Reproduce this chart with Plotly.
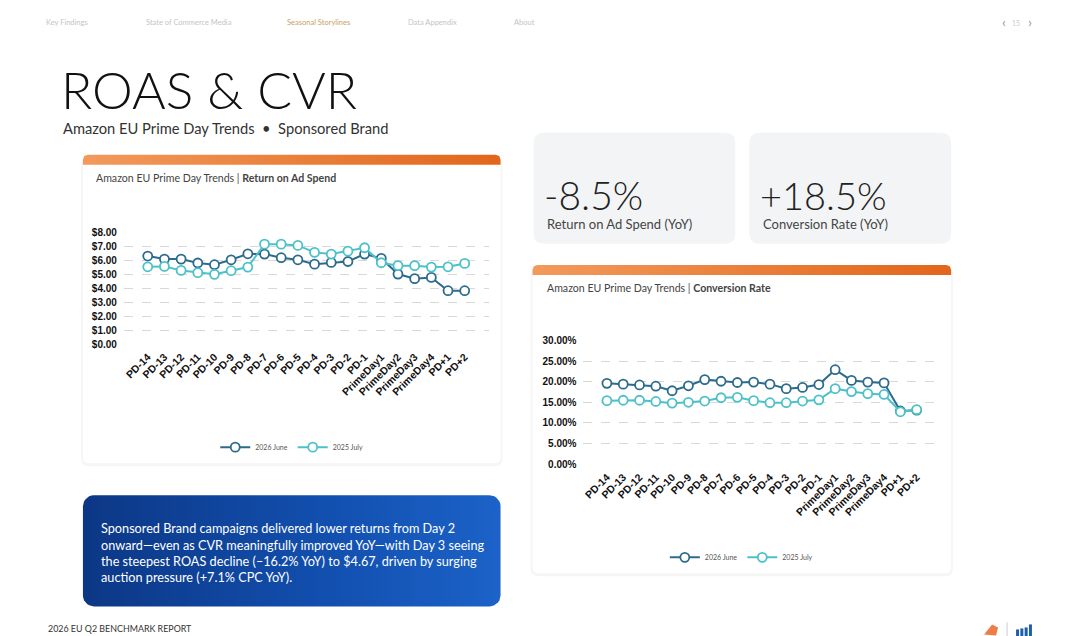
import numpy as np
import plotly.graph_objects as go

# page is 1080x636; the figure sits inside the html body margin, so page pixels are
# mapped onto figure pixels (x offset 8, y measured offset/scale from the rendered page)
OFFX, OFFY, SY = 8, 13.5, 0.981
W, H = 1072, 628

# --- data ---
days = ['PD-14', 'PD-13', 'PD-12', 'PD-11', 'PD-10', 'PD-9', 'PD-8', 'PD-7', 'PD-6', 'PD-5',
        'PD-4', 'PD-3', 'PD-2', 'PD-1', 'PrimeDay1', 'PrimeDay2', 'PrimeDay3', 'PrimeDay4',
        'PD+1', 'PD+2']
roas_2026 = [6.29, 6.07, 6.07, 5.79, 5.67, 6.02, 6.45, 6.43, 6.17, 6.02,
             5.71, 5.83, 5.90, 6.43, 6.12, 5.00, 4.67, 4.76, 3.81, 3.81]
roas_2025 = [5.52, 5.55, 5.26, 5.10, 4.98, 5.24, 5.50, 7.14, 7.14, 7.05,
             6.55, 6.43, 6.64, 6.88, 5.81, 5.60, 5.60, 5.50, 5.52, 5.76]
cvr_2026 = [19.6, 19.4, 19.2, 18.9, 17.8, 19.0, 20.5, 20.1, 19.8, 19.9,
            19.4, 18.3, 18.6, 19.3, 22.9, 20.3, 19.9, 19.7, 12.9, 13.1]
cvr_2025 = [15.4, 15.5, 15.5, 15.2, 14.8, 15.0, 15.3, 16.1, 16.2, 15.4,
            14.9, 14.9, 15.3, 15.6, 18.3, 17.6, 17.1, 16.9, 12.7, 13.2]
series_names = ['2026 June', '2025 July']
roas_ticks = [0, 1, 2, 3, 4, 5, 6, 7, 8]
cvr_ticks = [0, 5, 10, 15, 20, 25, 30]

DARK = '#2c6b8c'
LIGHT = '#4cc2c8'
FONT = 'Lato, Inter, Noto Sans, sans-serif'
TICKFONT = dict(family='Liberation Sans, Arial', size=10, color='#111', weight='bold')


def fx(x):
    return x - OFFX


def fy(y):
    return (y - OFFY) / SY


def px(x):
    return fx(x) / W


def py(y):
    return 1 - fy(y) / H


def rrect_path(x0, y0, x1, y1, r, top_only=False):
    # rounded rectangle in page pixels -> svg path in paper coords
    rb = 0 if top_only else r
    pts = [
        f"M {px(x0 + r)},{py(y0)}",
        f"L {px(x1 - r)},{py(y0)}",
        f"Q {px(x1)},{py(y0)} {px(x1)},{py(y0 + r)}",
        f"L {px(x1)},{py(y1 - rb)}",
        f"Q {px(x1)},{py(y1)} {px(x1 - rb)},{py(y1)}",
        f"L {px(x0 + rb)},{py(y1)}",
        f"Q {px(x0)},{py(y1)} {px(x0)},{py(y1 - rb)}",
        f"L {px(x0)},{py(y0 + r)}",
        f"Q {px(x0)},{py(y0)} {px(x0 + r)},{py(y0)} Z",
    ]
    return ' '.join(pts)


def rrect_poly(x0, y0, x1, y1, r, top_only=False):
    # rounded rectangle polygon (figure pixels) for gradient-filled traces
    rb = 0 if top_only else r
    xs, ys = [], []
    corners = [(x1 - r, y0 + r, r, -90, 0), (x1 - rb, y1 - rb, rb, 0, 90),
               (x0 + rb, y1 - rb, rb, 90, 180), (x0 + r, y0 + r, r, 180, 270)]
    for cx, cy, rr, a0, a1 in corners:
        t = np.deg2rad(np.linspace(a0, a1, 8))
        xs += [fx(v) for v in cx + rr * np.cos(t)]
        ys += [fy(v) for v in cy + rr * np.sin(t)]
    xs.append(xs[0])
    ys.append(ys[0])
    return xs, ys


fig = go.Figure()

# --- gradient pieces drawn on a full-figure pixel axis ---
grads = [
    (82, 155, 500, 165, 5, True, [[0, '#f29a5c'], [1, '#e2661b']]),
    (532, 265, 951, 275, 5, True, [[0, '#f29a5c'], [1, '#e2661b']]),
    (82, 495, 500, 606, 11, False, [[0, '#0c3785'], [0.6, '#1250b0'], [1, '#1c62c8']]),
]
for x0, y0, x1, y1, r, top, cs in grads:
    gx, gy = rrect_poly(x0, y0, x1, y1, r, top)
    fig.add_trace(go.Scatter(x=gx, y=gy, mode='lines', fill='toself', line=dict(width=0),
                             fillgradient=dict(type='horizontal', colorscale=cs),
                             hoverinfo='skip', showlegend=False, xaxis='x', yaxis='y'))

# --- chart traces ---
for vals, name, col in [(roas_2026, series_names[0], DARK),
                        (roas_2025, series_names[1], LIGHT)]:
    fig.add_trace(go.Scatter(x=days, y=vals, name=name, mode='lines+markers',
                             line=dict(color=col, width=2),
                             marker=dict(symbol='circle', size=9, color='white',
                                         line=dict(color=col, width=1.8)),
                             xaxis='x2', yaxis='y2', legend='legend'))
for vals, name, col in [(cvr_2026, series_names[0], DARK),
                        (cvr_2025, series_names[1], LIGHT)]:
    fig.add_trace(go.Scatter(x=days, y=vals, name=name, mode='lines+markers',
                             line=dict(color=col, width=2),
                             marker=dict(symbol='circle', size=9, color='white',
                                         line=dict(color=col, width=1.8)),
                             xaxis='x3', yaxis='y3', legend='legend2'))

# --- cards as shapes ---
shapes = []
for x0, y0, x1, y1 in [(82, 157, 500, 463), (532, 267, 951, 573)]:
    shapes.append(dict(type='path', path=rrect_path(x0 - 2, y0, x1 + 2, y1 + 3, 8),
                       xref='paper', yref='paper', fillcolor='rgba(0,0,0,0.035)',
                       line=dict(width=0), layer='below'))
    shapes.append(dict(type='path', path=rrect_path(x0, y0, x1, y1, 6),
                       xref='paper', yref='paper', fillcolor='white',
                       line=dict(width=0), layer='below'))
for x0 in [533, 749]:
    shapes.append(dict(type='path', path=rrect_path(x0, 133, x0 + 202, 244, 11),
                       xref='paper', yref='paper', fillcolor='#f3f4f5',
                       line=dict(width=0), layer='below'))
# footer logos
shapes.append(dict(type='path', path=f"M {px(984)},{py(634)} L {px(992)},{py(624)} L {px(998)},{py(627)} "
                   f"L {px(996)},{py(635)} Z", xref='paper', yref='paper',
                   fillcolor='#ee7d4a', line=dict(width=0)))
shapes.append(dict(type='line', x0=px(1007), x1=px(1007), y0=py(622), y1=py(636),
                   xref='paper', yref='paper', line=dict(color='#cccccc', width=1)))
for i, top in enumerate([629, 628, 627, 624]):
    shapes.append(dict(type='rect', x0=px(1016 + i * 4.3), x1=px(1019 + i * 4.3),
                       y0=py(636), y1=py(top), xref='paper', yref='paper',
                       fillcolor='#1f5ea8', line=dict(width=0)))

# --- texts ---
ann = []


def text(x, y, s, size, color='#333', anchor='left', weight='normal', family=FONT):
    if anchor == 'left':
        x -= 3  # annotation box padding
    ann.append(dict(x=px(x), y=py(y), xref='paper', yref='paper', text=s, showarrow=False,
                    xanchor=anchor, yanchor='middle', align=anchor,
                    font=dict(family=family, size=size, color=color, weight=weight)))


for x, s, c in [(46, 'Key Findings', '#c4c4c4'), (146, 'State of Commerce Media', '#c4c4c4'),
                (287, 'Seasonal Storylines', '#c9a06a'), (408, 'Data Appendix', '#c4c4c4'),
                (514, 'About', '#c4c4c4')]:
    text(x, 23, s, 7.5, c)
text(1004, 22, '‹', 14, '#999999', 'center')
text(1016, 23, '15', 7, '#cccccc', 'center')
text(1030, 22, '›', 14, '#999999', 'center')

text(61, 89, 'ROAS &amp; CVR', 51.5, '#111111', weight=300)
text(63, 128, 'Amazon EU Prime Day Trends  •  Sponsored Brand', 14.7, '#333333')

text(96, 178, 'Amazon EU Prime Day Trends | <b>Return on Ad Spend</b>', 10.6, '#444444')
text(547, 288, 'Amazon EU Prime Day Trends | <b>Conversion Rate</b>', 10.6, '#444444')

text(544, 195, '-8.5%', 39, '#222222', weight=300)
text(547, 224, 'Return on Ad Spend (YoY)', 13, '#444444')
text(761, 195, '+18.5%', 38, '#222222', weight=300)
text(764, 224, 'Conversion Rate (YoY)', 13, '#444444')

lines = ['Sponsored Brand campaigns delivered lower returns from Day 2',
         'onward—even as CVR meaningfully improved YoY—with Day 3 seeing',
         'the steepest ROAS decline (–16.2% YoY) to $4.67, driven by surging',
         'auction pressure (+7.1% CPC YoY).']
for i, s in enumerate(lines):
    text(101, 528 + i * 16.2, s, 12.7, '#ffffff')

text(48, 628, '2026 EU Q2 BENCHMARK REPORT', 8.9, '#333333')

grid = dict(showgrid=True, gridcolor='#d8d8d8', griddash='dash', gridwidth=1,
            zeroline=False, showline=False, ticks='', tickfont=TICKFONT, fixedrange=True,
            ticklabelstandoff=6)
xcat = dict(type='category', showgrid=False, zeroline=False, showline=False, ticks='',
            tickangle=-45, ticklabelstandoff=4, fixedrange=True,
            tickfont=dict(family='Liberation Sans, Arial', size=10.5, color='#111', weight='bold'))

fig.update_layout(
    width=W, height=H,
    margin=dict(l=0, r=0, t=0, b=0),
    paper_bgcolor='white', plot_bgcolor='rgba(0,0,0,0)',
    font=dict(family=FONT),
    xaxis=dict(domain=[0, 1], range=[0, W], visible=False, fixedrange=True),
    yaxis=dict(domain=[0, 1], range=[H, 0], visible=False, fixedrange=True),
    xaxis2=dict(domain=[px(123), px(488)], anchor='y2', **xcat),
    yaxis2=dict(domain=[py(344), py(232)], anchor='x2', range=[0, 8.02], tickvals=roas_ticks,
                ticktext=[f'${v:.2f}' for v in roas_ticks], **grid),
    xaxis3=dict(domain=[px(583), px(940)], anchor='y3', **xcat),
    yaxis3=dict(domain=[py(464), py(340)], anchor='x3', range=[0, 30.1], tickvals=cvr_ticks,
                ticktext=[f'{v:.2f}%' for v in cvr_ticks], **grid),
    legend=dict(orientation='h', x=px(291), y=py(447), xanchor='center', yanchor='middle',
                font=dict(size=7, color='#555555'), bgcolor='rgba(0,0,0,0)'),
    legend2=dict(orientation='h', x=px(741), y=py(557), xanchor='center', yanchor='middle',
                 font=dict(size=7, color='#555555'), bgcolor='rgba(0,0,0,0)'),
    shapes=shapes,
    annotations=ann,
    hovermode='closest',
)

fig.write_html("out.html")
